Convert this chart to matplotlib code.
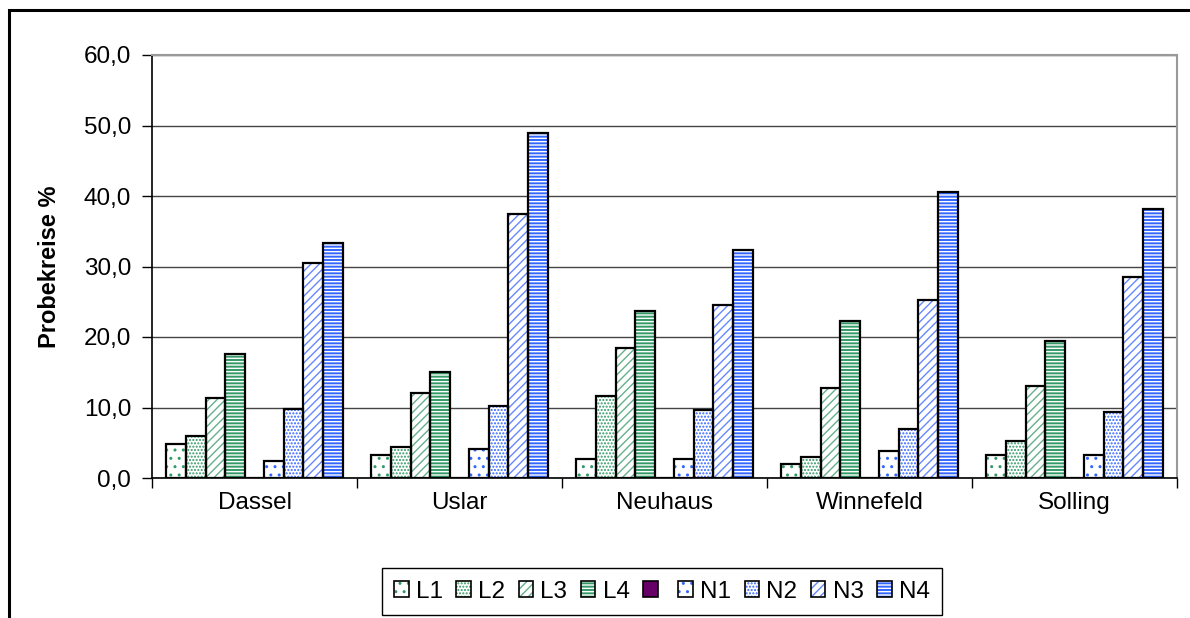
import numpy as np
import matplotlib.pyplot as plt
from matplotlib.patches import Patch, Rectangle
from matplotlib.legend_handler import HandlerTuple
from matplotlib.ticker import FuncFormatter

plt.rcParams['font.family'] = ['Liberation Sans', 'DejaVu Sans']
plt.rcParams['hatch.linewidth'] = 1.0

sites = ['Dassel', 'Uslar', 'Neuhaus', 'Winnefeld', 'Solling']
L1 = [4.8, 3.3, 2.7, 2.0, 3.2]
L2 = [5.9, 4.4, 11.6, 3.0, 5.3]
L3 = [11.3, 12.0, 18.5, 12.8, 13.1]
L4 = [17.6, 15.0, 23.7, 22.2, 19.5]
spacer = [0, 0, 0, 0, 0]
N1 = [2.4, 4.1, 2.7, 3.9, 3.2]
N2 = [9.8, 10.2, 9.6, 6.9, 9.3]
N3 = [30.5, 37.5, 24.6, 25.2, 28.5]
N4 = [33.3, 48.9, 32.4, 40.5, 38.2]

green = '#339966'
blue = '#3366ff'
# label, values, face, hatch colour, hatch
series = [
    ('L1', L1, 'white', green, '..'),
    ('L2', L2, 'white', green, '.....'),
    ('L3', L3, 'white', '#66b08a', '////'),
    ('L4', L4, green, 'white', '-----'),
    ('', spacer, '#660066', '#660066', None),
    ('N1', N1, 'white', blue, '..'),
    ('N2', N2, 'white', blue, '.....'),
    ('N3', N3, 'white', '#6688ff', '////'),
    ('N4', N4, blue, 'white', '-----'),
]

fig = plt.figure(figsize=(11.9, 6.18), dpi=100)
ax = fig.add_axes([152/1190, 1-478/618, (1177-152)/1190, (478-55)/618])

x = np.arange(len(sites))
w = 0.0956
handles = []
labels = []
for j, (lab, vals, face, hcol, hatch) in enumerate(series):
    pos = x + (j - 4) * w
    ax.bar(pos, vals, w, color=face, edgecolor=hcol, hatch=hatch, linewidth=0, zorder=3)
    ax.bar(pos, vals, w, fill=False, edgecolor='black', linewidth=1.6, zorder=4)
    h1 = Patch(facecolor=face, edgecolor=hcol, hatch=hatch, linewidth=0)
    h2 = Patch(fill=False, edgecolor='black', linewidth=1.2)
    handles.append((h1, h2))
    labels.append(lab)

ax.set_ylim(0, 60)
ax.set_xlim(-0.5, 4.5)
ax.set_yticks(np.arange(0, 61, 10))
ax.yaxis.set_major_formatter(FuncFormatter(lambda v, p: f'{v:.1f}'.replace('.', ',')))
ax.yaxis.grid(True, color='#444444', linewidth=1, zorder=0)
ax.set_axisbelow(True)

ax.set_xticks(np.arange(-0.5, 4.6, 1))
ax.set_xticklabels([])
ax.set_xticks(x, minor=True)
ax.set_xticklabels(sites, minor=True)
ax.tick_params(axis='x', which='minor', length=0, pad=10, labelsize=17.5)
ax.tick_params(axis='x', which='major', length=7, width=1, direction='out')
ax.tick_params(axis='y', length=7, width=1, direction='out', pad=8, labelsize=17.5)

for s in ['left', 'bottom']:
    ax.spines[s].set_color('black')
    ax.spines[s].set_linewidth(1.2)
for s in ['top', 'right']:
    ax.spines[s].set_color('#999999')
    ax.spines[s].set_linewidth(1.5)

ax.set_ylabel('Probekreise %', fontsize=17, fontweight='bold')
ax.yaxis.set_label_coords((61-152)/1025, 0.5)

leg = fig.legend(handles, labels, handler_map={tuple: HandlerTuple(ndivide=1)},
                 loc='center', bbox_to_anchor=(662/1190, 1-591.5/618), ncol=9,
                 fontsize=17.5, handlelength=0.6, handleheight=0.6, handletextpad=0.3,
                 columnspacing=0.55, fancybox=False, framealpha=1, edgecolor='black',
                 borderpad=0.5)
leg.get_frame().set_linewidth(1.0)

fig.add_artist(Rectangle((9/1190, -0.1), 1.2, (618-10)/618 + 0.1,
                         transform=fig.transFigure, fill=False, edgecolor='black',
                         linewidth=2.2))

fig.savefig('out.png', dpi=100)
